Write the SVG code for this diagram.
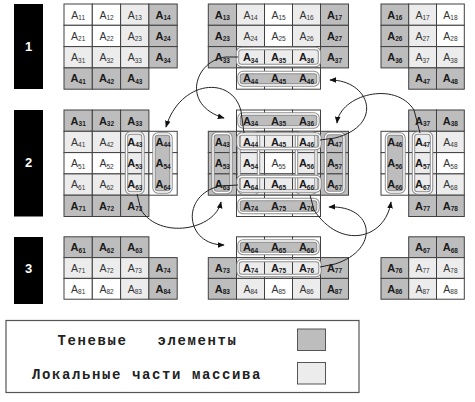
<svg xmlns="http://www.w3.org/2000/svg" width="475" height="402" viewBox="0 0 475 402">
<defs>
<style>
.sh{fill:#bdbdbd;stroke:#404040;stroke-width:1}
.lo{fill:#ececec;stroke:#404040;stroke-width:1}
.wh{fill:#fff;stroke:#404040;stroke-width:1}
.s{font-family:"Liberation Sans",Arial,sans-serif;font-size:11px;font-weight:bold;fill:#1a1a1a;text-anchor:middle}
.l{font-family:"Liberation Sans",Arial,sans-serif;font-size:10.5px;fill:#333;text-anchor:middle}
.n{font-size:6.5px}
.fo{fill:#bdbdbd;stroke:#8c8c8c;stroke-width:3.4}
.fi{fill:none;stroke:#fff;stroke-width:1.4}
.ho{fill:none;stroke:#8c8c8c;stroke-width:3.4}
.bar{fill:#000}
.bt{font-family:"Liberation Sans",Arial,sans-serif;font-size:13px;font-weight:bold;fill:#fff;text-anchor:middle}
.c{fill:none;stroke:#222;stroke-width:1}
.lg{font-family:"Liberation Mono","Courier New",monospace;font-size:14px;font-weight:bold;fill:#222;letter-spacing:1.6px;white-space:pre}
</style>
<marker id="ah" viewBox="0 0 10 10" refX="9" refY="5" markerWidth="7" markerHeight="7" orient="auto" markerUnits="userSpaceOnUse"><path d="M0,1 L10,5 L0,9 z" fill="#111"/></marker>
</defs>
<rect width="475" height="402" fill="#fff"/>

<g id="bars">
<rect class="bar" x="14" y="4" width="29" height="85"/>
<rect class="bar" x="14" y="110" width="29" height="106.5"/>
<rect class="bar" x="14" y="237" width="29" height="67"/>
<text class="bt" x="28.5" y="51">1</text>
<text class="bt" x="28.5" y="167">2</text>
<text class="bt" x="28.5" y="273">3</text>
</g>

<g id="b11">
<rect class="wh" x="64" y="4" width="28.3" height="21.3"/><rect class="wh" x="92.3" y="4" width="28.3" height="21.3"/><rect class="lo" x="120.6" y="4" width="28.3" height="21.3"/><rect class="sh" x="148.9" y="4" width="28.3" height="21.3"/>
<rect class="wh" x="64" y="25.3" width="28.3" height="21.3"/><rect class="wh" x="92.3" y="25.3" width="28.3" height="21.3"/><rect class="lo" x="120.6" y="25.3" width="28.3" height="21.3"/><rect class="sh" x="148.9" y="25.3" width="28.3" height="21.3"/>
<rect class="lo" x="64" y="46.6" width="28.3" height="21.3"/><rect class="lo" x="92.3" y="46.6" width="28.3" height="21.3"/><rect class="lo" x="120.6" y="46.6" width="28.3" height="21.3"/><rect class="sh" x="148.9" y="46.6" width="28.3" height="21.3"/>
<rect class="sh" x="64" y="67.9" width="28.3" height="21.3"/><rect class="sh" x="92.3" y="67.9" width="28.3" height="21.3"/><rect class="sh" x="120.6" y="67.9" width="28.3" height="21.3"/>
<text class="l" x="78.2" y="18.5">A<tspan class="n" dy="1.5">11</tspan></text><text class="l" x="106.5" y="18.5">A<tspan class="n" dy="1.5">12</tspan></text><text class="l" x="134.8" y="18.5">A<tspan class="n" dy="1.5">13</tspan></text><text class="s" x="163.1" y="18.5">A<tspan class="n" dy="1.5">14</tspan></text>
<text class="l" x="78.2" y="39.8">A<tspan class="n" dy="1.5">21</tspan></text><text class="l" x="106.5" y="39.8">A<tspan class="n" dy="1.5">22</tspan></text><text class="l" x="134.8" y="39.8">A<tspan class="n" dy="1.5">23</tspan></text><text class="s" x="163.1" y="39.8">A<tspan class="n" dy="1.5">24</tspan></text>
<text class="l" x="78.2" y="61.1">A<tspan class="n" dy="1.5">31</tspan></text><text class="l" x="106.5" y="61.1">A<tspan class="n" dy="1.5">32</tspan></text><text class="l" x="134.8" y="61.1">A<tspan class="n" dy="1.5">33</tspan></text><text class="s" x="163.1" y="61.1">A<tspan class="n" dy="1.5">34</tspan></text>
<text class="s" x="78.2" y="82.4">A<tspan class="n" dy="1.5">41</tspan></text><text class="s" x="106.5" y="82.4">A<tspan class="n" dy="1.5">42</tspan></text><text class="s" x="134.8" y="82.4">A<tspan class="n" dy="1.5">43</tspan></text>
</g>

<g id="b12">
<rect class="sh" x="208.3" y="4" width="28.2" height="21.3"/><rect class="lo" x="236.5" y="4" width="28" height="21.3"/><rect class="wh" x="264.5" y="4" width="28" height="21.3"/><rect class="lo" x="292.5" y="4" width="28" height="21.3"/><rect class="sh" x="320.5" y="4" width="28" height="21.3"/>
<rect class="sh" x="208.3" y="25.3" width="28.2" height="21.3"/><rect class="lo" x="236.5" y="25.3" width="28" height="21.3"/><rect class="wh" x="264.5" y="25.3" width="28" height="21.3"/><rect class="lo" x="292.5" y="25.3" width="28" height="21.3"/><rect class="sh" x="320.5" y="25.3" width="28" height="21.3"/>
<rect class="sh" x="208.3" y="46.6" width="28.2" height="21.3"/><rect class="lo" x="236.5" y="46.6" width="28" height="21.3"/><rect class="lo" x="264.5" y="46.6" width="28" height="21.3"/><rect class="lo" x="292.5" y="46.6" width="28" height="21.3"/><rect class="sh" x="320.5" y="46.6" width="28" height="21.3"/>
<rect class="wh" x="236.5" y="67.9" width="28" height="21.3"/><rect class="wh" x="264.5" y="67.9" width="28" height="21.3"/><rect class="wh" x="292.5" y="67.9" width="28" height="21.3"/>
<rect class="fo" x="239" y="72.5" width="79" height="12.5" rx="4"/><rect class="fi" x="239" y="72.5" width="79" height="12.5" rx="4"/>
<rect class="ho" x="237.5" y="48.5" width="82" height="17" rx="4"/><rect class="fi" x="237.5" y="48.5" width="82" height="17" rx="4"/>
<text class="s" x="222.4" y="18.5">A<tspan class="n" dy="1.5">13</tspan></text><text class="l" x="250.5" y="18.5">A<tspan class="n" dy="1.5">14</tspan></text><text class="l" x="278.5" y="18.5">A<tspan class="n" dy="1.5">15</tspan></text><text class="l" x="306.5" y="18.5">A<tspan class="n" dy="1.5">16</tspan></text><text class="s" x="334.5" y="18.5">A<tspan class="n" dy="1.5">17</tspan></text>
<text class="s" x="222.4" y="39.8">A<tspan class="n" dy="1.5">23</tspan></text><text class="l" x="250.5" y="39.8">A<tspan class="n" dy="1.5">24</tspan></text><text class="l" x="278.5" y="39.8">A<tspan class="n" dy="1.5">25</tspan></text><text class="l" x="306.5" y="39.8">A<tspan class="n" dy="1.5">26</tspan></text><text class="s" x="334.5" y="39.8">A<tspan class="n" dy="1.5">27</tspan></text>
<text class="s" x="222.4" y="61.1">A<tspan class="n" dy="1.5">33</tspan></text><text class="s" x="250.5" y="61.1">A<tspan class="n" dy="1.5">34</tspan></text><text class="s" x="278.5" y="61.1">A<tspan class="n" dy="1.5">35</tspan></text><text class="s" x="306.5" y="61.1">A<tspan class="n" dy="1.5">36</tspan></text><text class="s" x="334.5" y="61.1">A<tspan class="n" dy="1.5">37</tspan></text>
<text class="s" x="250.5" y="82.4">A<tspan class="n" dy="1.5">44</tspan></text><text class="s" x="278.5" y="82.4">A<tspan class="n" dy="1.5">45</tspan></text><text class="s" x="306.5" y="82.4">A<tspan class="n" dy="1.5">46</tspan></text>
</g>

<g id="b13">
<rect class="sh" x="381" y="4" width="27.7" height="21.3"/><rect class="lo" x="408.7" y="4" width="27.8" height="21.3"/><rect class="wh" x="436.5" y="4" width="27.8" height="21.3"/>
<rect class="sh" x="381" y="25.3" width="27.7" height="21.3"/><rect class="lo" x="408.7" y="25.3" width="27.8" height="21.3"/><rect class="wh" x="436.5" y="25.3" width="27.8" height="21.3"/>
<rect class="sh" x="381" y="46.6" width="27.7" height="21.3"/><rect class="lo" x="408.7" y="46.6" width="27.8" height="21.3"/><rect class="lo" x="436.5" y="46.6" width="27.8" height="21.3"/>
<rect class="sh" x="408.7" y="67.9" width="27.8" height="21.3"/><rect class="sh" x="436.5" y="67.9" width="27.8" height="21.3"/>
<text class="s" x="394.9" y="18.5">A<tspan class="n" dy="1.5">16</tspan></text><text class="l" x="422.6" y="18.5">A<tspan class="n" dy="1.5">17</tspan></text><text class="l" x="450.4" y="18.5">A<tspan class="n" dy="1.5">18</tspan></text>
<text class="s" x="394.9" y="39.8">A<tspan class="n" dy="1.5">26</tspan></text><text class="l" x="422.6" y="39.8">A<tspan class="n" dy="1.5">27</tspan></text><text class="l" x="450.4" y="39.8">A<tspan class="n" dy="1.5">28</tspan></text>
<text class="s" x="394.9" y="61.1">A<tspan class="n" dy="1.5">36</tspan></text><text class="l" x="422.6" y="61.1">A<tspan class="n" dy="1.5">37</tspan></text><text class="l" x="450.4" y="61.1">A<tspan class="n" dy="1.5">38</tspan></text>
<text class="s" x="422.6" y="82.4">A<tspan class="n" dy="1.5">47</tspan></text><text class="s" x="450.4" y="82.4">A<tspan class="n" dy="1.5">48</tspan></text>
</g>

<g id="b21">
<rect class="sh" x="64" y="110" width="28.3" height="21.3"/><rect class="sh" x="92.3" y="110" width="28.3" height="21.3"/><rect class="sh" x="120.6" y="110" width="28.3" height="21.3"/>
<rect class="lo" x="64" y="131.3" width="28.3" height="21.3"/><rect class="lo" x="92.3" y="131.3" width="28.3" height="21.3"/><rect class="lo" x="120.6" y="131.3" width="28.3" height="21.3"/><rect class="wh" x="148.9" y="131.3" width="28.3" height="21.3"/>
<rect class="wh" x="64" y="152.6" width="28.3" height="21.3"/><rect class="wh" x="92.3" y="152.6" width="28.3" height="21.3"/><rect class="lo" x="120.6" y="152.6" width="28.3" height="21.3"/><rect class="wh" x="148.9" y="152.6" width="28.3" height="21.3"/>
<rect class="lo" x="64" y="173.9" width="28.3" height="21.3"/><rect class="lo" x="92.3" y="173.9" width="28.3" height="21.3"/><rect class="lo" x="120.6" y="173.9" width="28.3" height="21.3"/><rect class="wh" x="148.9" y="173.9" width="28.3" height="21.3"/>
<rect class="sh" x="64" y="195.2" width="28.3" height="21.3"/><rect class="sh" x="92.3" y="195.2" width="28.3" height="21.3"/><rect class="sh" x="120.6" y="195.2" width="28.3" height="21.3"/>
<rect class="fo" x="154" y="134" width="17" height="58" rx="4"/><rect class="fi" x="154" y="134" width="17" height="58" rx="4"/>
<rect class="ho" x="126.5" y="133" width="16.5" height="60" rx="4"/><rect class="fi" x="126.5" y="133" width="16.5" height="60" rx="4"/>
<text class="s" x="78.2" y="124.5">A<tspan class="n" dy="1.5">31</tspan></text><text class="s" x="106.5" y="124.5">A<tspan class="n" dy="1.5">32</tspan></text><text class="s" x="134.8" y="124.5">A<tspan class="n" dy="1.5">33</tspan></text>
<text class="l" x="78.2" y="145.8">A<tspan class="n" dy="1.5">41</tspan></text><text class="l" x="106.5" y="145.8">A<tspan class="n" dy="1.5">42</tspan></text><text class="s" x="134.8" y="145.8">A<tspan class="n" dy="1.5">43</tspan></text><text class="s" x="163.1" y="145.8">A<tspan class="n" dy="1.5">44</tspan></text>
<text class="l" x="78.2" y="167.1">A<tspan class="n" dy="1.5">51</tspan></text><text class="l" x="106.5" y="167.1">A<tspan class="n" dy="1.5">52</tspan></text><text class="s" x="134.8" y="167.1">A<tspan class="n" dy="1.5">53</tspan></text><text class="s" x="163.1" y="167.1">A<tspan class="n" dy="1.5">54</tspan></text>
<text class="l" x="78.2" y="188.4">A<tspan class="n" dy="1.5">61</tspan></text><text class="l" x="106.5" y="188.4">A<tspan class="n" dy="1.5">62</tspan></text><text class="s" x="134.8" y="188.4">A<tspan class="n" dy="1.5">63</tspan></text><text class="s" x="163.1" y="188.4">A<tspan class="n" dy="1.5">64</tspan></text>
<text class="s" x="78.2" y="209.7">A<tspan class="n" dy="1.5">71</tspan></text><text class="s" x="106.5" y="209.7">A<tspan class="n" dy="1.5">72</tspan></text><text class="s" x="134.8" y="209.7">A<tspan class="n" dy="1.5">73</tspan></text>
</g>

<g id="b22">
<rect class="wh" x="236.5" y="110" width="28" height="21.3"/><rect class="wh" x="264.5" y="110" width="28" height="21.3"/><rect class="wh" x="292.5" y="110" width="28" height="21.3"/>
<rect class="sh" x="208.3" y="131.3" width="28.2" height="21.3"/><rect class="lo" x="236.5" y="131.3" width="28" height="21.3"/><rect class="lo" x="264.5" y="131.3" width="28" height="21.3"/><rect class="lo" x="292.5" y="131.3" width="28" height="21.3"/><rect class="sh" x="320.5" y="131.3" width="28" height="21.3"/>
<rect class="sh" x="208.3" y="152.6" width="28.2" height="21.3"/><rect class="lo" x="236.5" y="152.6" width="28" height="21.3"/><rect class="wh" x="264.5" y="152.6" width="28" height="21.3"/><rect class="lo" x="292.5" y="152.6" width="28" height="21.3"/><rect class="sh" x="320.5" y="152.6" width="28" height="21.3"/>
<rect class="sh" x="208.3" y="173.9" width="28.2" height="21.3"/><rect class="lo" x="236.5" y="173.9" width="28" height="21.3"/><rect class="lo" x="264.5" y="173.9" width="28" height="21.3"/><rect class="lo" x="292.5" y="173.9" width="28" height="21.3"/><rect class="sh" x="320.5" y="173.9" width="28" height="21.3"/>
<rect class="wh" x="236.5" y="195.2" width="28" height="21.3"/><rect class="wh" x="264.5" y="195.2" width="28" height="21.3"/><rect class="wh" x="292.5" y="195.2" width="28" height="21.3"/>
<rect class="fo" x="239" y="114" width="79" height="13" rx="4"/><rect class="fi" x="239" y="114" width="79" height="13" rx="4"/>
<rect class="fo" x="239" y="199.5" width="79" height="13" rx="4"/><rect class="fi" x="239" y="199.5" width="79" height="13" rx="4"/>
<rect class="ho" x="213" y="133.5" width="18" height="59" rx="4"/><rect class="fi" x="213" y="133.5" width="18" height="59" rx="4"/>
<rect class="ho" x="325.5" y="133.5" width="18.5" height="59" rx="4"/><rect class="fi" x="325.5" y="133.5" width="18.5" height="59" rx="4"/>
<rect class="ho" x="239" y="133" width="19.5" height="60" rx="4"/><rect class="fi" x="239" y="133" width="19.5" height="60" rx="4"/>
<rect class="ho" x="296.5" y="133" width="19.5" height="60" rx="4"/><rect class="fi" x="296.5" y="133" width="19.5" height="60" rx="4"/>
<rect class="ho" x="238" y="134" width="82" height="14.5" rx="4"/><rect class="fi" x="238" y="134" width="82" height="14.5" rx="4"/>
<rect class="ho" x="238" y="176.5" width="82" height="14.5" rx="4"/><rect class="fi" x="238" y="176.5" width="82" height="14.5" rx="4"/>
<text class="s" x="250.5" y="124.5">A<tspan class="n" dy="1.5">34</tspan></text><text class="s" x="278.5" y="124.5">A<tspan class="n" dy="1.5">35</tspan></text><text class="s" x="306.5" y="124.5">A<tspan class="n" dy="1.5">36</tspan></text>
<text class="s" x="222.4" y="145.8">A<tspan class="n" dy="1.5">43</tspan></text><text class="s" x="250.5" y="145.8">A<tspan class="n" dy="1.5">44</tspan></text><text class="s" x="278.5" y="145.8">A<tspan class="n" dy="1.5">45</tspan></text><text class="s" x="306.5" y="145.8">A<tspan class="n" dy="1.5">46</tspan></text><text class="s" x="334.5" y="145.8">A<tspan class="n" dy="1.5">47</tspan></text>
<text class="s" x="222.4" y="167.1">A<tspan class="n" dy="1.5">53</tspan></text><text class="s" x="250.5" y="167.1">A<tspan class="n" dy="1.5">54</tspan></text><text class="l" x="278.5" y="167.1">A<tspan class="n" dy="1.5">55</tspan></text><text class="s" x="306.5" y="167.1">A<tspan class="n" dy="1.5">56</tspan></text><text class="s" x="334.5" y="167.1">A<tspan class="n" dy="1.5">57</tspan></text>
<text class="s" x="222.4" y="188.4">A<tspan class="n" dy="1.5">63</tspan></text><text class="s" x="250.5" y="188.4">A<tspan class="n" dy="1.5">64</tspan></text><text class="s" x="278.5" y="188.4">A<tspan class="n" dy="1.5">65</tspan></text><text class="s" x="306.5" y="188.4">A<tspan class="n" dy="1.5">66</tspan></text><text class="s" x="334.5" y="188.4">A<tspan class="n" dy="1.5">67</tspan></text>
<text class="s" x="250.5" y="209.7">A<tspan class="n" dy="1.5">74</tspan></text><text class="s" x="278.5" y="209.7">A<tspan class="n" dy="1.5">75</tspan></text><text class="s" x="306.5" y="209.7">A<tspan class="n" dy="1.5">76</tspan></text>
</g>

<g id="b23">
<rect class="sh" x="408.7" y="110" width="27.8" height="21.3"/><rect class="sh" x="436.5" y="110" width="27.8" height="21.3"/>
<rect class="wh" x="381" y="131.3" width="27.7" height="21.3"/><rect class="lo" x="408.7" y="131.3" width="27.8" height="21.3"/><rect class="lo" x="436.5" y="131.3" width="27.8" height="21.3"/>
<rect class="wh" x="381" y="152.6" width="27.7" height="21.3"/><rect class="lo" x="408.7" y="152.6" width="27.8" height="21.3"/><rect class="wh" x="436.5" y="152.6" width="27.8" height="21.3"/>
<rect class="wh" x="381" y="173.9" width="27.7" height="21.3"/><rect class="lo" x="408.7" y="173.9" width="27.8" height="21.3"/><rect class="lo" x="436.5" y="173.9" width="27.8" height="21.3"/>
<rect class="sh" x="408.7" y="195.2" width="27.8" height="21.3"/><rect class="sh" x="436.5" y="195.2" width="27.8" height="21.3"/>
<rect class="fo" x="386.5" y="134" width="17.5" height="58" rx="4"/><rect class="fi" x="386.5" y="134" width="17.5" height="58" rx="4"/>
<rect class="ho" x="413.5" y="133" width="18" height="60" rx="4"/><rect class="fi" x="413.5" y="133" width="18" height="60" rx="4"/>
<text class="s" x="422.6" y="124.5">A<tspan class="n" dy="1.5">37</tspan></text><text class="s" x="450.4" y="124.5">A<tspan class="n" dy="1.5">38</tspan></text>
<text class="s" x="394.9" y="145.8">A<tspan class="n" dy="1.5">46</tspan></text><text class="s" x="422.6" y="145.8">A<tspan class="n" dy="1.5">47</tspan></text><text class="l" x="450.4" y="145.8">A<tspan class="n" dy="1.5">48</tspan></text>
<text class="s" x="394.9" y="167.1">A<tspan class="n" dy="1.5">56</tspan></text><text class="s" x="422.6" y="167.1">A<tspan class="n" dy="1.5">57</tspan></text><text class="l" x="450.4" y="167.1">A<tspan class="n" dy="1.5">58</tspan></text>
<text class="s" x="394.9" y="188.4">A<tspan class="n" dy="1.5">66</tspan></text><text class="s" x="422.6" y="188.4">A<tspan class="n" dy="1.5">67</tspan></text><text class="l" x="450.4" y="188.4">A<tspan class="n" dy="1.5">68</tspan></text>
<text class="s" x="422.6" y="209.7">A<tspan class="n" dy="1.5">77</tspan></text><text class="s" x="450.4" y="209.7">A<tspan class="n" dy="1.5">78</tspan></text>
</g>

<g id="b31">
<rect class="sh" x="64" y="236.8" width="28.3" height="20.8"/><rect class="sh" x="92.3" y="236.8" width="28.3" height="20.8"/><rect class="sh" x="120.6" y="236.8" width="28.3" height="20.8"/>
<rect class="lo" x="64" y="257.6" width="28.3" height="20.8"/><rect class="lo" x="92.3" y="257.6" width="28.3" height="20.8"/><rect class="lo" x="120.6" y="257.6" width="28.3" height="20.8"/><rect class="sh" x="148.9" y="257.6" width="28.3" height="20.8"/>
<rect class="wh" x="64" y="278.4" width="28.3" height="20.8"/><rect class="wh" x="92.3" y="278.4" width="28.3" height="20.8"/><rect class="lo" x="120.6" y="278.4" width="28.3" height="20.8"/><rect class="sh" x="148.9" y="278.4" width="28.3" height="20.8"/>
<text class="s" x="78.2" y="251.1">A<tspan class="n" dy="1.5">61</tspan></text><text class="s" x="106.5" y="251.1">A<tspan class="n" dy="1.5">62</tspan></text><text class="s" x="134.8" y="251.1">A<tspan class="n" dy="1.5">63</tspan></text>
<text class="l" x="78.2" y="271.9">A<tspan class="n" dy="1.5">71</tspan></text><text class="l" x="106.5" y="271.9">A<tspan class="n" dy="1.5">72</tspan></text><text class="l" x="134.8" y="271.9">A<tspan class="n" dy="1.5">73</tspan></text><text class="s" x="163.1" y="271.9">A<tspan class="n" dy="1.5">74</tspan></text>
<text class="l" x="78.2" y="292.7">A<tspan class="n" dy="1.5">81</tspan></text><text class="l" x="106.5" y="292.7">A<tspan class="n" dy="1.5">82</tspan></text><text class="l" x="134.8" y="292.7">A<tspan class="n" dy="1.5">83</tspan></text><text class="s" x="163.1" y="292.7">A<tspan class="n" dy="1.5">84</tspan></text>
</g>

<g id="b32">
<rect class="wh" x="236.5" y="236.8" width="28" height="20.8"/><rect class="wh" x="264.5" y="236.8" width="28" height="20.8"/><rect class="wh" x="292.5" y="236.8" width="28" height="20.8"/>
<rect class="sh" x="208.3" y="257.6" width="28.2" height="20.8"/><rect class="lo" x="236.5" y="257.6" width="28" height="20.8"/><rect class="lo" x="264.5" y="257.6" width="28" height="20.8"/><rect class="lo" x="292.5" y="257.6" width="28" height="20.8"/><rect class="sh" x="320.5" y="257.6" width="28" height="20.8"/>
<rect class="sh" x="208.3" y="278.4" width="28.2" height="20.8"/><rect class="lo" x="236.5" y="278.4" width="28" height="20.8"/><rect class="wh" x="264.5" y="278.4" width="28" height="20.8"/><rect class="lo" x="292.5" y="278.4" width="28" height="20.8"/><rect class="sh" x="320.5" y="278.4" width="28" height="20.8"/>
<rect class="fo" x="239" y="241" width="79" height="12.5" rx="4"/><rect class="fi" x="239" y="241" width="79" height="12.5" rx="4"/>
<rect class="ho" x="238" y="260.5" width="82" height="15" rx="4"/><rect class="fi" x="238" y="260.5" width="82" height="15" rx="4"/>
<text class="s" x="250.5" y="251.1">A<tspan class="n" dy="1.5">64</tspan></text><text class="s" x="278.5" y="251.1">A<tspan class="n" dy="1.5">65</tspan></text><text class="s" x="306.5" y="251.1">A<tspan class="n" dy="1.5">66</tspan></text>
<text class="s" x="222.4" y="271.9">A<tspan class="n" dy="1.5">73</tspan></text><text class="s" x="250.5" y="271.9">A<tspan class="n" dy="1.5">74</tspan></text><text class="s" x="278.5" y="271.9">A<tspan class="n" dy="1.5">75</tspan></text><text class="s" x="306.5" y="271.9">A<tspan class="n" dy="1.5">76</tspan></text><text class="s" x="334.5" y="271.9">A<tspan class="n" dy="1.5">77</tspan></text>
<text class="s" x="222.4" y="292.7">A<tspan class="n" dy="1.5">83</tspan></text><text class="l" x="250.5" y="292.7">A<tspan class="n" dy="1.5">84</tspan></text><text class="l" x="278.5" y="292.7">A<tspan class="n" dy="1.5">85</tspan></text><text class="l" x="306.5" y="292.7">A<tspan class="n" dy="1.5">86</tspan></text><text class="s" x="334.5" y="292.7">A<tspan class="n" dy="1.5">87</tspan></text>
</g>

<g id="b33">
<rect class="sh" x="408.7" y="236.8" width="27.8" height="20.8"/><rect class="sh" x="436.5" y="236.8" width="27.8" height="20.8"/>
<rect class="sh" x="381" y="257.6" width="27.7" height="20.8"/><rect class="lo" x="408.7" y="257.6" width="27.8" height="20.8"/><rect class="lo" x="436.5" y="257.6" width="27.8" height="20.8"/>
<rect class="sh" x="381" y="278.4" width="27.7" height="20.8"/><rect class="lo" x="408.7" y="278.4" width="27.8" height="20.8"/><rect class="wh" x="436.5" y="278.4" width="27.8" height="20.8"/>
<text class="s" x="422.6" y="251.1">A<tspan class="n" dy="1.5">67</tspan></text><text class="s" x="450.4" y="251.1">A<tspan class="n" dy="1.5">68</tspan></text>
<text class="s" x="394.9" y="271.9">A<tspan class="n" dy="1.5">76</tspan></text><text class="l" x="422.6" y="271.9">A<tspan class="n" dy="1.5">77</tspan></text><text class="l" x="450.4" y="271.9">A<tspan class="n" dy="1.5">78</tspan></text>
<text class="s" x="394.9" y="292.7">A<tspan class="n" dy="1.5">86</tspan></text><text class="l" x="422.6" y="292.7">A<tspan class="n" dy="1.5">87</tspan></text><text class="l" x="450.4" y="292.7">A<tspan class="n" dy="1.5">88</tspan></text>
</g>

<g id="connectors">
<path class="c" marker-end="url(#ah)" d="M 244 133 L 241 111 C 232 75, 180 80, 166 127"/>
<path class="c" marker-end="url(#ah)" d="M 238 57 L 226 57 C 195 60, 180 105, 224 118"/>
<path class="c" marker-end="url(#ah)" d="M 320 140 L 335 138 C 385 125, 370 80, 330 80"/>
<path class="c" marker-end="url(#ah)" d="M 420 133 L 414 110 C 395 80, 340 95, 337 123"/>
<path class="c" marker-end="url(#ah)" d="M 137 194 L 141 210 C 160 240, 215 230, 221 202"/>
<path class="c" marker-end="url(#ah)" d="M 320 267 L 335 264 C 380 250, 375 205, 329 207"/>
<path class="c" marker-end="url(#ah)" d="M 238 185 L 220 186 C 180 195, 185 245, 224 245"/>
<path class="c" marker-end="url(#ah)" d="M 310 195 L 314 210 C 340 250, 385 240, 391 202"/>
</g>

<g id="legend">
<rect x="6" y="320.5" width="353" height="72" fill="none" stroke="#555" stroke-width="1.2"/>
<text class="lg" x="57.5" y="345" xml:space="preserve">Теневые   элементы</text>
<text class="lg" x="32" y="379">Локальные части массива</text>
<rect x="297.5" y="329" width="28" height="21.5" fill="#bdbdbd" stroke="#555"/>
<rect x="297.5" y="362.5" width="28" height="21.5" fill="#ececec" stroke="#555"/>
</g>
</svg>
